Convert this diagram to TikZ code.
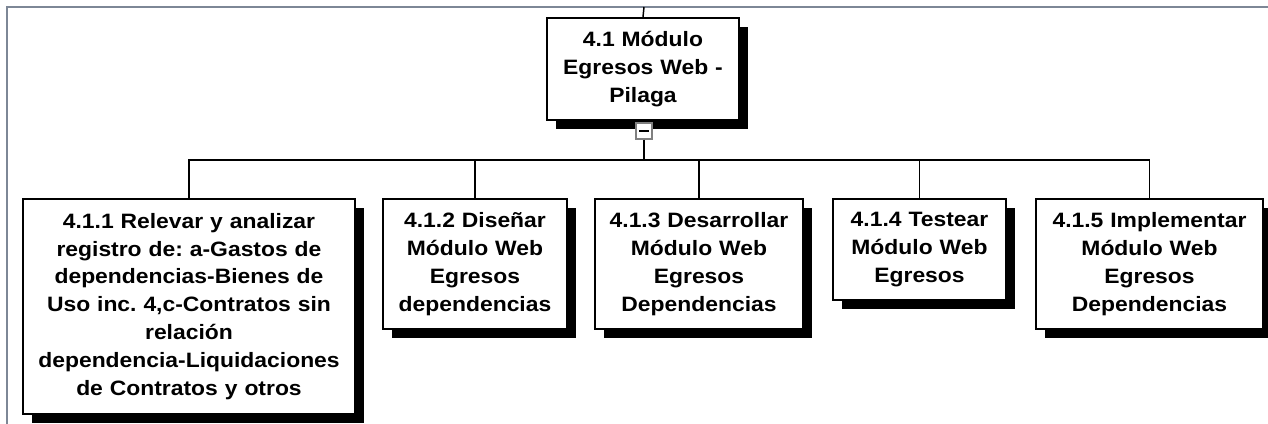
\documentclass[tikz,border=0pt]{standalone}
\usepackage{fontspec}
\setmainfont{Liberation Sans}[FakeStretch=1.1]
\usetikzlibrary{shadows}
\definecolor{framecol}{HTML}{7D8796}
\tikzset{
  wbsbox/.style={draw=black, line width=1.3pt, fill=white, anchor=north,
    align=center, inner xsep=2pt, inner ysep=0pt,
    font=\bfseries\fontsize{15.6}{20.9}\selectfont,
    drop shadow={shadow xshift=6.5pt, shadow yshift=-6.5pt, fill=black, opacity=1}},
  togbox/.style={draw=gray, line width=0.9pt, fill=white, minimum size=12pt, inner sep=0pt},
  wire/.style={line width=1.1pt}
}
\frenchspacing
\begin{document}
\begin{tikzpicture}[x=0.75pt, y=-0.75pt]
    % Page size of the reference (pixel units)
    \useasboundingbox (0,0) rectangle (1268,424);

    % Window frame at top and left
    \draw[framecol, line width=1.6pt] (7,424) -- (7,7) -- (1268,7);
    \coordinate (ftop) at (644,7);

    % Root of the breakdown
    \node[wbsbox, text width=140pt, minimum height=76.5pt] (root) at (643,17)
        {4.1 Módulo\\ Egresos Web -\\ Pilaga};

    % The five work packages
    \node[wbsbox, text width=245pt, minimum height=161.25pt] (t1) at (189,198)
        {4.1.1 Relevar y analizar\\ registro de: a-Gastos de\\ dependencias-Bienes de\\
         Uso inc. 4,c-Contratos sin\\ relación\\ dependencia-Liquidaciones\\ de Contratos y otros};
    \node[wbsbox, text width=134pt, minimum height=97.5pt] (t2) at (475,198)
        {4.1.2 Diseñar\\ Módulo Web\\ Egresos\\ dependencias};
    \node[wbsbox, text width=152pt, minimum height=97.5pt] (t3) at (699,198)
        {4.1.3 Desarrollar\\ Módulo Web\\ Egresos\\ Dependencias};
    \node[wbsbox, text width=126pt, minimum height=75.75pt] (t4) at (919.5,198)
        {4.1.4 Testear\\ Módulo Web\\ Egresos};
    \node[wbsbox, text width=166pt, minimum height=97.5pt] (t5) at (1149.5,198)
        {4.1.5 Implementar\\ Módulo Web\\ Egresos\\ Dependencias};

    % Collapse toggle under the root
    \node[togbox] (tog) at (644,131) {};
    \draw[line width=1.1pt] ([xshift=-3.5pt]tog.center) -- ([xshift=3.5pt]tog.center);

    % Connectors
    \coordinate (bus) at (644,160);
    \draw[wire] (ftop) -- (root.north);
    \draw[wire] (tog.south) -- (bus);
    \foreach \t in {t1,t2,t3,t4,t5}
        \draw[wire] (bus) -| (\t.north);

\end{tikzpicture}
\end{document}
